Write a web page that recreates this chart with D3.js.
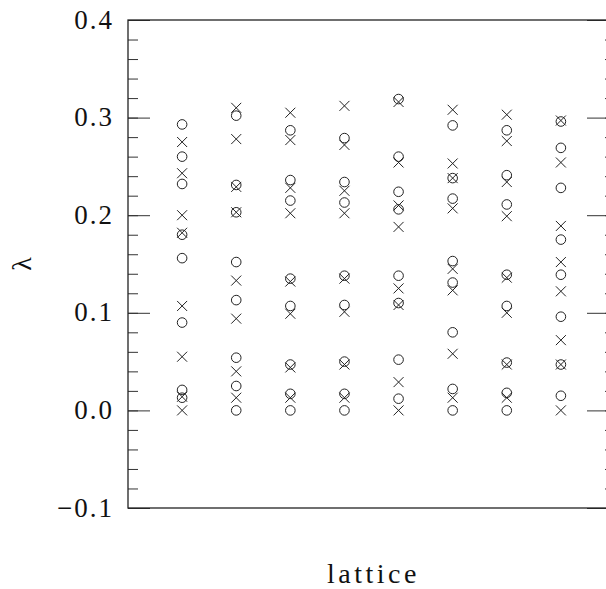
<!DOCTYPE html>
<html>
<head>
  <meta charset="utf-8">
  <title>lattice</title>
  <script src="https://d3js.org/d3.v7.min.js"></script>
  <style>
    body { margin: 0; background: #fff; }
    svg text { font-family: "Liberation Serif", "DejaVu Serif", serif; fill: #111; }
    .axis path { display: none; }
    .axis line { stroke: #333; stroke-width: 1; }
  </style>
</head>
<body>
<script>
  // lattice index (x position of each column)
  var lattices = [1, 2, 3, 4, 5, 6, 7, 8];
  // values marked with x
  var crossVals = [
    [0.275, 0.243, 0.200, 0.182, 0.107, 0.055, 0.014, 0.000],
    [0.310, 0.278, 0.229, 0.203, 0.133, 0.094, 0.040, 0.013],
    [0.305, 0.277, 0.228, 0.202, 0.132, 0.099, 0.044, 0.013],
    [0.312, 0.272, 0.225, 0.202, 0.135, 0.101, 0.047, 0.013],
    [0.316, 0.254, 0.210, 0.188, 0.125, 0.108, 0.029, 0.000],
    [0.308, 0.253, 0.238, 0.207, 0.145, 0.123, 0.058, 0.013],
    [0.303, 0.276, 0.234, 0.199, 0.136, 0.100, 0.047, 0.013],
    [0.297, 0.254, 0.189, 0.152, 0.122, 0.072, 0.047, 0.000]
  ];
  // values marked with o
  var circleVals = [
    [0.293, 0.260, 0.232, 0.180, 0.156, 0.090, 0.021, 0.013],
    [0.302, 0.231, 0.203, 0.152, 0.113, 0.054, 0.025, 0.000],
    [0.287, 0.236, 0.215, 0.135, 0.107, 0.047, 0.017, 0.000],
    [0.279, 0.234, 0.213, 0.138, 0.108, 0.050, 0.017, 0.000],
    [0.319, 0.260, 0.224, 0.206, 0.138, 0.110, 0.052, 0.012],
    [0.292, 0.238, 0.217, 0.153, 0.131, 0.080, 0.022, 0.000],
    [0.287, 0.241, 0.211, 0.139, 0.107, 0.049, 0.018, 0.000],
    [0.296, 0.269, 0.228, 0.175, 0.139, 0.096, 0.047, 0.015]
  ];
  var yTicks = [-0.1, 0.0, 0.1, 0.2, 0.3, 0.4];
  var yMinor = d3.range(-0.1, 0.4001, 0.02);

  var width = 606, height = 589;
  var mLeft = 128, mRight = 615, mTop = 20, mBottom = 508;

  var x = d3.scaleLinear().domain([0, 9]).range([mLeft, mRight]);
  var y = d3.scaleLinear().domain([-0.1, 0.4]).range([mBottom, mTop]);

  var svg = d3.select('body').append('svg')
      .attr('width', width)
      .attr('height', height);

  // flatten into points
  var crosses = [], circles = [];
  lattices.forEach(function (l, i) {
    crossVals[i].forEach(function (v) { crosses.push({ x: l, y: v }) });
    circleVals[i].forEach(function (v) { circles.push({ x: l, y: v }) });
  });

  // left axis, majors with labels
  var fmt = function (d) { return (d < -1e-9 ? '\u2212' : '') + Math.abs(d).toFixed(1) };
  svg.append('g')
      .attr('class', 'axis')
      .attr('transform', 'translate(' + mLeft + ',0)')
      .call(d3.axisLeft(y).tickValues(yTicks).tickSizeInner(-22).tickSizeOuter(0)
        .tickPadding(14).tickFormat(fmt))
    .selectAll('text')
      .attr('dy', '0.3em')
      .style('font-size', '27px')
      .style('letter-spacing', '2px');
  svg.append('g')
      .attr('class', 'axis')
      .attr('transform', 'translate(' + mLeft + ',0)')
      .call(d3.axisLeft(y).tickValues(yMinor).tickSizeInner(-10).tickSizeOuter(0).tickFormat(''));

  // right axis
  svg.append('g')
      .attr('class', 'axis')
      .attr('transform', 'translate(' + mRight + ',0)')
      .call(d3.axisRight(y).tickValues(yTicks).tickSizeInner(-28).tickSizeOuter(0).tickFormat(''));
  svg.append('g')
      .attr('class', 'axis')
      .attr('transform', 'translate(' + mRight + ',0)')
      .call(d3.axisRight(y).tickValues(yMinor).tickSizeInner(-10).tickSizeOuter(0).tickFormat(''));

  // frame
  svg.append('rect')
      .attr('x', mLeft).attr('y', mTop)
      .attr('width', mRight - mLeft).attr('height', mBottom - mTop)
      .attr('fill', 'none')
      .attr('stroke', '#222')
      .attr('stroke-width', 1.3);

  // circles
  svg.selectAll('circle.pt')
      .data(circles)
      .enter()
    .append('circle')
      .attr('class', 'pt')
      .attr('cx', function (d) { return x(d.x) })
      .attr('cy', function (d) { return y(d.y) })
      .attr('r', 4.8)
      .attr('fill', 'none')
      .attr('stroke', '#222')
      .attr('stroke-width', 1);

  // crosses
  var s = 5;
  svg.selectAll('path.cross')
      .data(crosses)
      .enter()
    .append('path')
      .attr('class', 'cross')
      .attr('d', function (d) {
        var cx = x(d.x), cy = y(d.y);
        return 'M' + (cx - s) + ',' + (cy - s) + 'L' + (cx + s) + ',' + (cy + s) +
               'M' + (cx - s) + ',' + (cy + s) + 'L' + (cx + s) + ',' + (cy - s);
      })
      .attr('fill', 'none')
      .attr('stroke', '#222')
      .attr('stroke-width', 1);

  // axis labels
  svg.append('text')
      .attr('x', (mLeft + mRight) / 2 + 2)
      .attr('y', 583)
      .style('text-anchor', 'middle')
      .style('font-size', '28px')
      .style('letter-spacing', '3.5px')
      .text('lattice');

  svg.append('text')
      .attr('transform', 'translate(31,' + ((mTop + mBottom) / 2) + ') rotate(-90)')
      .style('text-anchor', 'middle')
      .style('font-size', '28px')
      .text('\u03bb');
</script>
</body>
</html>
